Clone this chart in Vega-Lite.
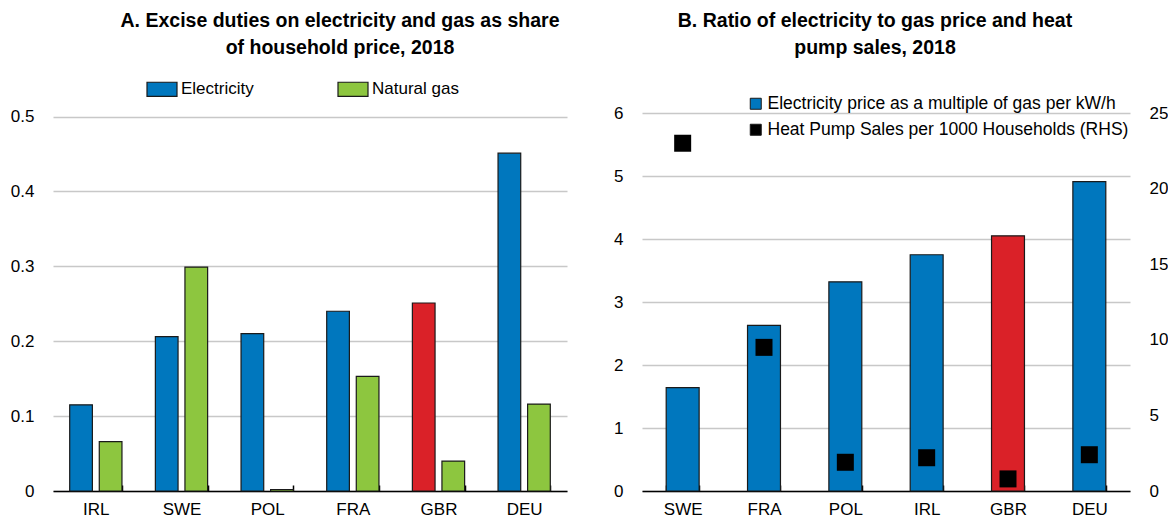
{
  "$schema": "https://vega.github.io/schema/vega-lite/v6.json",
  "background": "white",
  "padding": {"left": 10, "top": 10, "right": 0, "bottom": 0},
  "spacing": 46,
  "resolve": {"scale": {"color": "independent"}, "legend": {"color": "independent"}},
  "config": {
    "font": "Liberation Sans",
    "view": {"stroke": null},
    "axis": {"labelFontSize": 17, "labelColor": "#000", "labelFont": "Liberation Sans", "title": null},
    "legend": {"labelFontSize": 17, "labelColor": "#000", "labelFont": "Liberation Sans", "labelLimit": 0},
    "title": {"font": "Liberation Sans", "fontSize": 19.5, "fontWeight": "bold", "color": "#000", "lineHeight": 27}
  },
  "hconcat": [
    {
      "width": 514,
      "height": 378,
      "title": {"text": ["A. Excise duties on electricity and gas as share", "of household price, 2018"], "anchor": "middle", "dx": 30, "offset": 15},
      "data": {"values": [
        {"country": "IRL", "series": "Electricity", "value": 0.115},
        {"country": "IRL", "series": "Natural gas", "value": 0.066},
        {"country": "SWE", "series": "Electricity", "value": 0.206},
        {"country": "SWE", "series": "Natural gas", "value": 0.299},
        {"country": "POL", "series": "Electricity", "value": 0.21},
        {"country": "POL", "series": "Natural gas", "value": 0.002},
        {"country": "FRA", "series": "Electricity", "value": 0.24},
        {"country": "FRA", "series": "Natural gas", "value": 0.153},
        {"country": "GBR", "series": "Electricity", "value": 0.251},
        {"country": "GBR", "series": "Natural gas", "value": 0.04},
        {"country": "DEU", "series": "Electricity", "value": 0.451},
        {"country": "DEU", "series": "Natural gas", "value": 0.116}
      ]},
      "mark": {"type": "bar", "stroke": "#1a1a1a", "strokeWidth": 1.2},
      "encoding": {
        "x": {"field": "country", "type": "nominal", "sort": null,
          "scale": {"paddingInner": 0.39, "paddingOuter": 0.195},
          "axis": {"labelAngle": 0, "domainColor": "#000", "domainWidth": 1.5, "tickColor": "#000", "tickWidth": 1.5, "tickBand": "extent", "tickSize": -6, "labelPadding": 16, "grid": false}},
        "xOffset": {"field": "series", "type": "nominal", "scale": {"paddingInner": 0.233, "paddingOuter": 0}},
        "y": {"field": "value", "type": "quantitative",
          "scale": {"domain": [0, 0.5], "nice": false, "range": [378, 3.5]},
          "axis": {"values": [0, 0.1, 0.2, 0.3, 0.4, 0.5], "format": ".1~f", "domain": false, "ticks": false, "labelPadding": 19, "grid": true, "gridColor": "#C8C8C8", "gridWidth": 1.3}},
        "color": {
          "condition": {"test": "datum.country === 'GBR' && datum.series === 'Electricity'", "value": "#DA2128"},
          "field": "series", "type": "nominal",
          "scale": {"domain": ["Electricity", "Natural gas"], "range": ["#0077BE", "#8DC63F"]},
          "legend": {"title": null, "orient": "none", "legendX": 93, "legendY": -40, "direction": "horizontal", "symbolType": "M-1,-0.47H1V0.47H-1Z", "symbolSize": 900, "symbolStrokeColor": "#1a1a1a", "symbolStrokeWidth": 1.2, "symbolOpacity": 1, "labelOffset": 3, "columnPadding": 81}
        }
      }
    },
    {
      "width": 488,
      "height": 378,
      "title": {"text": ["B. Ratio of electricity to gas price and heat", "pump sales, 2018"], "anchor": "middle", "dx": -11, "offset": 37},
      "data": {"values": [
        {"country": "SWE", "ratio": 1.64, "heatpump": 23.0},
        {"country": "FRA", "ratio": 2.63, "heatpump": 9.5},
        {"country": "POL", "ratio": 3.32, "heatpump": 1.9},
        {"country": "IRL", "ratio": 3.75, "heatpump": 2.2},
        {"country": "GBR", "ratio": 4.05, "heatpump": 0.8},
        {"country": "DEU", "ratio": 4.91, "heatpump": 2.4}
      ]},
      "encoding": {
        "x": {"field": "country", "type": "nominal", "sort": null,
          "scale": {"paddingInner": 0.595, "paddingOuter": 0.2975},
          "axis": {"labelAngle": 0, "domainColor": "#000", "domainWidth": 1.5, "tickColor": "#000", "tickWidth": 1.5, "tickBand": "extent", "tickSize": -6, "labelPadding": 16, "grid": false}}
      },
      "layer": [
        {
          "mark": {"type": "bar", "stroke": "#1a1a1a", "strokeWidth": 1.2},
          "encoding": {
            "y": {"field": "ratio", "type": "quantitative",
              "scale": {"domain": [0, 6], "nice": false},
              "axis": {"values": [0, 1, 2, 3, 4, 5, 6], "domain": false, "ticks": false, "labelPadding": 19, "grid": true, "gridColor": "#C8C8C8", "gridWidth": 1.3}},
            "color": {
              "condition": {"test": "datum.country === 'GBR'", "value": "#DA2128"},
              "datum": "Electricity price as a multiple of gas per kW/h",
              "type": "nominal",
              "scale": {"domain": ["Electricity price as a multiple of gas per kW/h", "Heat Pump Sales per 1000 Households (RHS)"], "range": ["#0077BE", "#000000"]},
              "legend": {"title": null, "orient": "none", "legendX": 105, "legendY": -18, "direction": "vertical", "symbolType": "square", "symbolSize": 121, "symbolStrokeColor": "#1a1a1a", "symbolStrokeWidth": 1, "symbolOpacity": 1, "labelOffset": 3, "rowPadding": 7, "labelFontSize": 17.5}
            }
          }
        },
        {
          "mark": {"type": "point", "shape": "square", "filled": true, "size": 289, "opacity": 1},
          "encoding": {
            "y": {"field": "heatpump", "type": "quantitative",
              "scale": {"domain": [0, 25], "nice": false},
              "axis": {"orient": "right", "values": [0, 5, 10, 15, 20, 25], "domain": false, "ticks": false, "labelPadding": 19, "grid": false}},
            "color": {"datum": "Heat Pump Sales per 1000 Households (RHS)", "type": "nominal"}
          }
        }
      ],
      "resolve": {"scale": {"y": "independent"}}
    }
  ]
}
